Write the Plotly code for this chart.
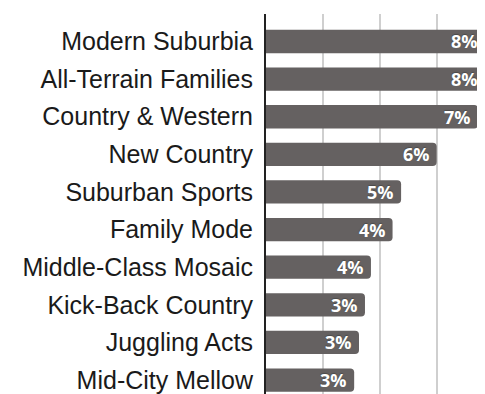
import plotly.graph_objects as go

categories = ["Modern Suburbia", "All-Terrain Families", "Country & Western", "New Country",
              "Suburban Sports", "Family Mode", "Middle-Class Mosaic", "Kick-Back Country",
              "Juggling Acts", "Mid-City Mellow"]
values = [7.70, 7.69, 7.46, 6.0, 4.75, 4.45, 3.69, 3.48, 3.27, 3.10]
labels = ["8%", "8%", "7%", "6%", "5%", "4%", "4%", "3%", "3%", "3%"]

fig = go.Figure(go.Bar(
    x=values, y=categories, orientation="h",
    marker=dict(color="#656161", cornerradius=4, line=dict(width=0)),
    width=0.62,
    hoverinfo="skip",
))

for c, v, t in zip(categories, values, labels):
    fig.add_annotation(
        x=v, y=c, xref="x", yref="y", text=t, showarrow=False,
        xanchor="right", yanchor="middle", xshift=-5, yshift=0,
        font=dict(family="Open Sans", size=18, color="white", weight="bold",
                  shadow="0px -1px 1px #4a4a4a"),
    )

fig.update_layout(
    width=477, height=386,
    margin=dict(l=258, r=0, t=5.5, b=0, pad=0),
    paper_bgcolor="white", plot_bgcolor="white",
    showlegend=False,
    xaxis=dict(range=[0, 7.70], dtick=2, tick0=0, showticklabels=False,
               showgrid=True, gridcolor="#cfcfcf", gridwidth=1.5,
               zeroline=False, showline=False, fixedrange=True),
    yaxis=dict(type="category", categoryorder="array", categoryarray=categories,
               range=[9.37, -0.73], showgrid=False, zeroline=False,
               showline=True, linecolor="#222", linewidth=2,
               ticks="", ticklabelstandoff=6,
               tickfont=dict(family="Liberation Sans", size=25, color="#1a1a1a")),
)

fig.write_html("out.html")
